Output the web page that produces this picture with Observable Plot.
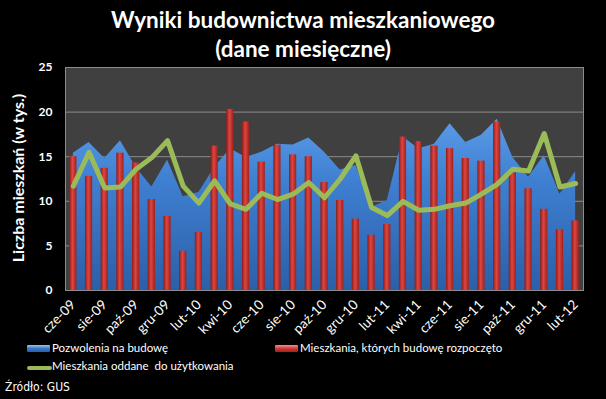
<!DOCTYPE html>
<html><head><meta charset="utf-8">
<script src="https://cdn.jsdelivr.net/npm/d3@7"></script>
<script src="https://cdn.jsdelivr.net/npm/@observablehq/plot@0.6"></script>
<style>
body{margin:0;background:#000;}
#root{position:relative;width:606px;height:399px;background:#000;overflow:hidden;font-family:Lato,"Open Sans",sans-serif;color:#fff;}
#title{position:absolute;top:5px;left:0;width:606px;text-align:center;font-weight:bold;font-size:22.5px;line-height:29px;}
#ylab{position:absolute;left:17px;top:178px;transform:translate(-50%,-50%) rotate(-90deg);white-space:nowrap;font-weight:bold;font-size:16px;}
#chart{position:absolute;top:60px;left:0;}
.lg{position:absolute;font-size:11.5px;white-space:nowrap;}
.sw{position:absolute;}
#src{position:absolute;left:5px;top:380px;font-family:"Liberation Sans Narrow","DejaVu Sans Condensed",sans-serif;font-size:12px;}
</style></head><body>
<div id="root">
<div id="title">Wyniki budownictwa mieszkaniowego<br>(dane miesięczne)</div>
<div id="ylab">Liczba mieszkań (w tys.)</div>
<div id="chart"></div>
<div class="sw" style="left:27px;top:345px;width:23px;height:7px;background:linear-gradient(#9cc4f0,#3a78c8 50%,#2a5ea8);border-radius:1px;"></div>
<div class="lg" style="left:52px;top:341px;">Pozwolenia na budowę</div>
<div class="sw" style="left:275px;top:345px;width:23px;height:7px;background:linear-gradient(#f09090,#d03a36 50%,#a02020);border-radius:1px;"></div>
<div class="lg" style="left:300px;top:341px;">Mieszkania, których budowę rozpoczęto</div>
<div class="sw" style="left:27px;top:366px;width:25px;height:4px;background:#9bbb59;border-radius:2px;"></div>
<div class="lg" style="left:52px;top:359px;">Mieszkania oddane&nbsp; do użytkowania</div>
<div id="src">Źródło: GUS</div>
</div>
<script>
const months = ["cze-09","lip-09","sie-09","wrz-09","paź-09","lis-09","gru-09","sty-10","lut-10","mar-10","kwi-10","maj-10","cze-10","lip-10","sie-10","wrz-10","paź-10","lis-10","gru-10","sty-11","lut-11","mar-11","kwi-11","maj-11","cze-11","lip-11","sie-11","wrz-11","paź-11","lis-11","gru-11","sty-12","lut-12"];
const tickLabels = ["cze-09","sie-09","paź-09","gru-09","lut-10","kwi-10","cze-10","sie-10","paź-10","gru-10","lut-11","kwi-11","cze-11","sie-11","paź-11","gru-11","lut-12"];
const pozwolenia = [15.4,16.6,14.8,16.8,13.8,11.6,14.6,10.5,11.0,13.8,15.9,14.9,15.5,16.4,16.3,17.1,15.5,13.5,14.0,9.3,10.1,17.2,15.9,16.4,18.7,16.6,17.4,19.2,14.9,12.7,15.1,10.8,13.3];
const rozpoczete = [15.0,12.8,13.7,15.4,14.3,10.2,8.3,4.4,6.5,16.2,20.3,18.9,14.4,16.3,15.2,15.0,12.1,10.1,8.0,6.2,7.4,17.2,16.7,16.2,15.9,14.8,14.5,18.9,13.2,11.4,9.1,6.8,7.8];
const oddane = [11.7,15.5,11.5,11.6,13.6,14.9,16.8,11.7,9.8,12.3,9.7,9.1,10.9,10.2,10.8,12.1,10.4,12.5,15.1,9.3,8.4,10.0,9.0,9.1,9.5,9.8,10.8,11.9,13.6,13.4,17.6,11.6,12.0];
const yTicks = [0,5,10,15,20,25];

const data = months.map((m, i) => ({i, m, p: pozwolenia[i], r: rozpoczete[i], o: oddane[i]}));
const tickIdx = months.map((m, i) => i).filter(i => tickLabels.includes(months[i]));

const defs = () => {
  const ns = "http://www.w3.org/2000/svg";
  const d = document.createElementNS(ns, "defs");
  d.innerHTML = `
  <linearGradient id="gBlue" x1="0" y1="0" x2="0" y2="1">
    <stop offset="0" stop-color="#5b9be8"/>
    <stop offset="0.35" stop-color="#3f80d2"/>
    <stop offset="1" stop-color="#2c5fa8"/>
  </linearGradient>
  <linearGradient id="gRed" x1="0" y1="0" x2="1" y2="0">
    <stop offset="0" stop-color="#8a1c1a"/>
    <stop offset="0.45" stop-color="#e0453f"/>
    <stop offset="1" stop-color="#9a2220"/>
  </linearGradient>`;
  return d;
};

const chart = Plot.plot({
  width: 606, height: 280,
  marginTop: 7, marginBottom: 50, marginLeft: 65, marginRight: 23,
  style: {background: "transparent", color: "#fff", fontFamily: "Lato, 'Open Sans', sans-serif", fontSize: "11px"},
  x: {type: "linear", domain: [-0.5, 32.5], axis: null},
  y: {domain: [0, 25], axis: null},
  marks: [
    defs,
    Plot.frame({fill: "#404040"}),
    Plot.gridY(yTicks, {stroke: "#8c8c8c", strokeOpacity: 1, strokeWidth: 1}),
    Plot.areaY(data, {x: "i", y: "p", fill: "url(#gBlue)"}),
    Plot.rectY(data, {x1: d => d.i - 0.23, x2: d => d.i + 0.23, y: "r", fill: "url(#gRed)"}),
    Plot.lineY(data, {x: "i", y: "o", stroke: "#9bbb59", strokeWidth: 5, strokeLinejoin: "round"}),
    Plot.frame({stroke: "#8c8c8c"}),
    Plot.axisX(tickIdx, {tickFormat: i => months[i], tickRotate: -45, tickSize: 0, tickPadding: 12, fontSize: 13.5, fill: "#fff", label: null}),
    Plot.axisY(yTicks, {tickSize: 0, tickPadding: 13, fontSize: 12, fontWeight: "bold", fill: "#fff", label: null})
  ]
});
document.getElementById("chart").appendChild(chart);
</script>
</body></html>
